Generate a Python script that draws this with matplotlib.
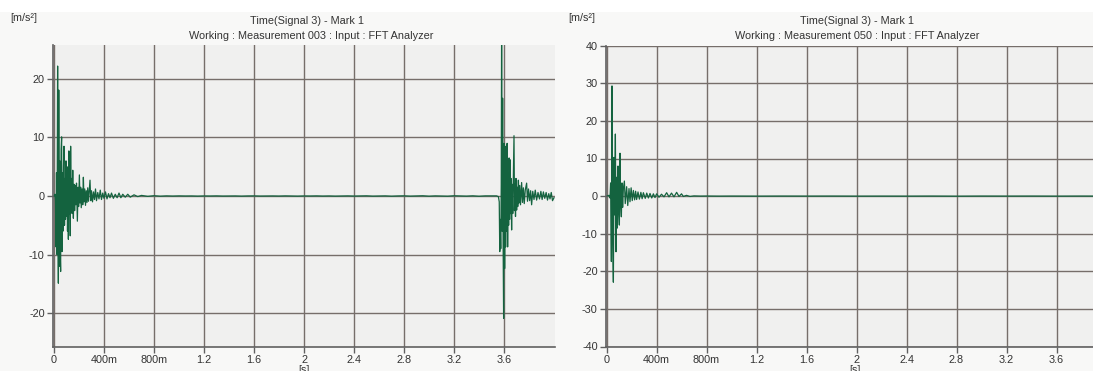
import matplotlib
matplotlib.use("Agg")
import matplotlib.pyplot as plt
from matplotlib.patches import Rectangle

# ---------------- data ----------------
left_title = ["Time(Signal 3) - Mark 1", "Working : Measurement 003 : Input : FFT Analyzer"]
right_title = ["Time(Signal 3) - Mark 1", "Working : Measurement 050 : Input : FFT Analyzer"]
unit_label = "[m/s\u00b2]"
x_label = "[s]"

x_ticks = [0, 0.4, 0.8, 1.2, 1.6, 2.0, 2.4, 2.8, 3.2, 3.6]
x_tick_labels = ["0", "400m", "800m", "1.2", "1.6", "2", "2.4", "2.8", "3.2", "3.6"]
left_y_ticks = [-20, -10, 0, 10, 20]
right_y_ticks = [-40, -30, -20, -10, 0, 10, 20, 30, 40]

# Measurement 003 : first hit near 0 s
left_hit1_t = [0.000, 0.008, 0.012, 0.016, 0.020, 0.024, 0.029, 0.032, 0.035, 0.038,
               0.042, 0.046, 0.050, 0.053, 0.057, 0.061, 0.064, 0.068, 0.072, 0.076,
               0.080, 0.084, 0.088, 0.092, 0.096, 0.100, 0.104, 0.108, 0.112, 0.115,
               0.119, 0.123, 0.127, 0.130, 0.133, 0.137, 0.141, 0.145, 0.150, 0.155,
               0.160, 0.165, 0.170, 0.175, 0.180, 0.187, 0.192, 0.197, 0.203, 0.208,
               0.213, 0.218, 0.224, 0.230, 0.235, 0.240, 0.246, 0.252, 0.258, 0.264,
               0.270, 0.276, 0.282, 0.288, 0.294, 0.300, 0.308, 0.316, 0.324, 0.332,
               0.340, 0.350, 0.360, 0.370, 0.380, 0.390, 0.400, 0.412, 0.424, 0.436,
               0.448, 0.460, 0.475, 0.490, 0.505, 0.520, 0.535, 0.550, 0.570, 0.590,
               0.610, 0.640, 0.670, 0.700, 0.750, 0.800, 0.850]
left_hit1_v = [0.0, 0.3, -0.8, -8.7, 4.0, -10.0, 22.2, -3.0, -14.9, 18.1,
               -12.0, 6.0, -10.0, -12.9, 8.0, 10.1, -9.5, 4.0, -6.0, 5.0,
               8.5, -5.0, 3.0, -4.0, 6.0, -3.5, 5.0, -6.0, 2.0, -7.4,
               7.7, -3.0, 4.0, -6.8, 8.5, -2.0, 3.0, -3.0, 4.4, -3.8,
               2.0, -2.5, 1.8, -1.5, 2.2, -4.3, 1.5, -1.8, 3.6, -1.2,
               1.5, -2.0, 1.2, -1.5, 3.2, -1.0, 1.2, -1.6, 0.9, -1.1,
               1.4, -0.9, 1.0, 2.7, -0.8, 0.9, -1.0, 0.7, -0.6, 1.2,
               -0.8, 0.6, -0.5, 1.0, -0.6, 0.5, -0.4, 0.7, -0.5, 0.4,
               -0.3, 0.5, -0.4, 0.3, -0.3, 0.5, -0.3, 0.3, -0.2, 0.3,
               -0.2, 0.2, -0.1, 0.1, -0.06, 0.05, -0.03]

# Measurement 003 : quiet stretch between the hits
left_quiet_t = [0.90, 0.95, 1.00, 1.05, 1.10, 1.15, 1.20, 1.25, 1.30, 1.35,
                1.40, 1.45, 1.50, 1.55, 1.60, 1.65, 1.70, 1.75, 1.80, 1.85,
                1.90, 1.95, 2.00, 2.05, 2.10, 2.15, 2.20, 2.25, 2.30, 2.35,
                2.40, 2.45, 2.50, 2.55, 2.60, 2.65, 2.70, 2.75, 2.80, 2.85,
                2.90, 2.95, 3.00, 3.05, 3.10, 3.15, 3.20, 3.25, 3.30, 3.35,
                3.40, 3.45, 3.50]
left_quiet_v = [0.02, -0.01, 0.02, 0.00, 0.01, -0.02, 0.01, 0.00, 0.02, -0.01,
                0.00, 0.01, -0.02, 0.01, 0.02, -0.01, 0.00, 0.01, -0.01, 0.02,
                0.00, -0.02, 0.01, 0.00, 0.02, -0.01, 0.01, -0.02, 0.00, 0.02,
                -0.01, 0.01, 0.03, -0.02, 0.00, 0.02, -0.03, 0.01, 0.03, -0.02,
                0.01, 0.04, -0.03, 0.02, 0.00, -0.03, 0.04, 0.01, -0.02, 0.03,
                -0.04, 0.02, 0.01]

# Measurement 003 : second hit near 3.58 s
left_hit2_t = [3.540, 3.555, 3.562, 3.566, 3.570, 3.574, 3.578, 3.581, 3.585, 3.589,
               3.593, 3.597, 3.601, 3.605, 3.609, 3.613, 3.617, 3.621, 3.625, 3.629,
               3.633, 3.637, 3.641, 3.645, 3.648, 3.652, 3.656, 3.661, 3.665, 3.670,
               3.675, 3.680, 3.684, 3.688, 3.692, 3.696, 3.701, 3.706, 3.710, 3.715,
               3.720, 3.726, 3.732, 3.741, 3.748, 3.755, 3.762, 3.770, 3.781, 3.788,
               3.796, 3.805, 3.813, 3.821, 3.830, 3.840, 3.850, 3.861, 3.872, 3.884,
               3.895, 3.905, 3.915, 3.926, 3.937, 3.948, 3.958, 3.968, 3.978, 3.988,
               4.000]
left_hit2_v = [0.02, -0.1, -1.0, -9.5, -4.0, -9.0, 2.0, 30.0, -6.0, 16.7,
               -8.0, -20.9, 9.0, -12.4, 8.5, -8.7, 7.0, -6.0, 9.0, -8.7,
               4.0, -5.0, 6.5, -4.0, 6.2, -3.0, 3.0, -5.8, 2.0, -3.0,
               4.0, 10.3, -2.5, 2.0, -3.5, 3.0, -2.4, 1.5, -1.8, 2.7,
               -1.2, 1.8, -1.5, 2.3, -1.1, 1.4, -1.3, 1.0, 2.2, -0.9,
               1.2, -0.8, 0.9, -1.5, 0.8, -0.6, 1.0, -0.7, 0.6, -0.5,
               0.8, -0.6, 0.7, -0.4, 0.6, -0.7, 0.4, -0.5, 0.6, -0.8,
               -0.3]

# Measurement 050 : single hit near 0 s
right_hit_t = [0.000, 0.020, 0.028, 0.033, 0.039, 0.044, 0.049, 0.055, 0.060, 0.065,
               0.071, 0.076, 0.081, 0.087, 0.092, 0.097, 0.103, 0.108, 0.113, 0.119,
               0.124, 0.129, 0.135, 0.143, 0.150, 0.161, 0.170, 0.180, 0.188, 0.197,
               0.206, 0.215, 0.225, 0.233, 0.241, 0.252, 0.263, 0.275, 0.285, 0.295,
               0.310, 0.322, 0.335, 0.348, 0.362, 0.375, 0.388, 0.401, 0.420, 0.440,
               0.460, 0.481, 0.500, 0.520, 0.540, 0.561, 0.580, 0.600, 0.615, 0.640,
               0.668, 0.700, 0.750]
right_hit_v = [0.0, 0.2, -0.5, 3.5, -17.4, 29.3, -10.4, -22.9, 10.3, -5.0,
               16.5, -14.8, 5.0, -8.5, 8.0, -3.0, -7.7, 11.4, -2.0, -5.5,
               3.5, -3.0, 2.0, 4.0, -2.0, 2.5, -2.5, 2.0, -1.5, 2.2,
               -1.2, 1.5, -1.0, 1.3, -0.9, 1.1, -0.8, 1.0, -0.7, 0.9,
               -0.6, 0.8, -0.5, 0.7, -0.5, 0.6, -0.4, 0.6, -0.3, 0.5,
               -0.2, 0.9, -0.2, 0.8, -0.2, 1.0, -0.1, 0.6, -0.1, 0.2,
               -0.1, 0.05, 0.0]

right_quiet_t = [0.80, 0.90, 1.00, 1.20, 1.40, 1.60, 1.80, 2.00, 2.20, 2.40,
                 2.60, 2.80, 3.00, 3.20, 3.40, 3.60, 3.80, 3.90]
right_quiet_v = [0.02, -0.01, 0.01, -0.01, 0.01, 0.00, 0.01, -0.01, 0.00, -0.01,
                 0.01, -0.02, 0.01, 0.00, 0.01, -0.01, 0.01, 0.0]

# ---------------- drawing ----------------
W, H = 1093, 371
fig = plt.figure(figsize=(W / 100, H / 100), dpi=100)
fig.patch.set_facecolor("#f8f8f7")
fig.patches.append(Rectangle((0, 1 - 12 / H), 1, 12 / H, transform=fig.transFigure,
                             facecolor="white", edgecolor="none", zorder=-10))

FONT = ["Liberation Sans", "DejaVu Sans"]
FS = 7.8
LINE_C = "#14633f"
GRID_C = "#766e6a"
TXT_C = "#333333"


def px(x, y):
    return x / W, 1 - y / H


def style(ax, xlim, ylim, yticks):
    ax.set_facecolor("#f0f0ef")
    ax.set_xlim(*xlim)
    ax.set_ylim(*ylim)
    ax.set_xticks(x_ticks)
    ax.set_xticklabels(x_tick_labels, fontfamily=FONT, fontsize=FS, color=TXT_C)
    ax.set_yticks(yticks)
    ax.set_yticklabels([str(v) for v in yticks], fontfamily=FONT, fontsize=FS, color=TXT_C)
    ax.grid(True, color=GRID_C, lw=1.0)
    ax.set_axisbelow(True)
    for s in ("top", "right"):
        ax.spines[s].set_visible(False)
    for s in ("left", "bottom"):
        ax.spines[s].set_color("#606060")
        ax.spines[s].set_linewidth(1.2)
    ax.tick_params(direction="out", length=4, width=1, color="#606060", pad=2)


# left panel
l0, b0 = px(53, 347)
l1, t0 = px(555, 45)
axL = fig.add_axes([l0, b0, l1 - l0, t0 - b0])
style(axL, (-0.008, 4.008), (-25.8, 25.8), left_y_ticks)
axL.plot(left_hit1_t + left_quiet_t + left_hit2_t,
         left_hit1_v + left_quiet_v + left_hit2_v, color=LINE_C, lw=0.9)

# right panel
r0, rb = px(606, 346.5)
r1, rt = px(1093, 45.7)
axR = fig.add_axes([r0, rb, r1 - r0, rt - rb])
style(axR, (-0.004, 3.892), (-40, 40), right_y_ticks)
axR.plot(right_hit_t + right_quiet_t, right_hit_v + right_quiet_v, color=LINE_C, lw=0.9)

# texts
for (ux, cx1, cx2, xl, lines) in [(10, 306.5, 311, 304, left_title),
                                  (568, 857, 857, 855, right_title)]:
    x, y = px(ux, 18)
    fig.text(x, y, unit_label, ha="left", va="center", fontfamily=FONT, fontsize=FS, color=TXT_C)
    x, y = px(cx1, 21)
    fig.text(x, y, lines[0], ha="center", va="center", fontfamily=FONT, fontsize=FS, color=TXT_C)
    x, y = px(cx2, 36)
    fig.text(x, y, lines[1], ha="center", va="center", fontfamily=FONT, fontsize=FS, color=TXT_C)
    x, y = px(xl, 365)
    fig.text(x, y, x_label, ha="center", va="top", fontfamily=FONT, fontsize=FS, color=TXT_C)

fig.savefig("out.png", dpi=100, facecolor=fig.get_facecolor())
